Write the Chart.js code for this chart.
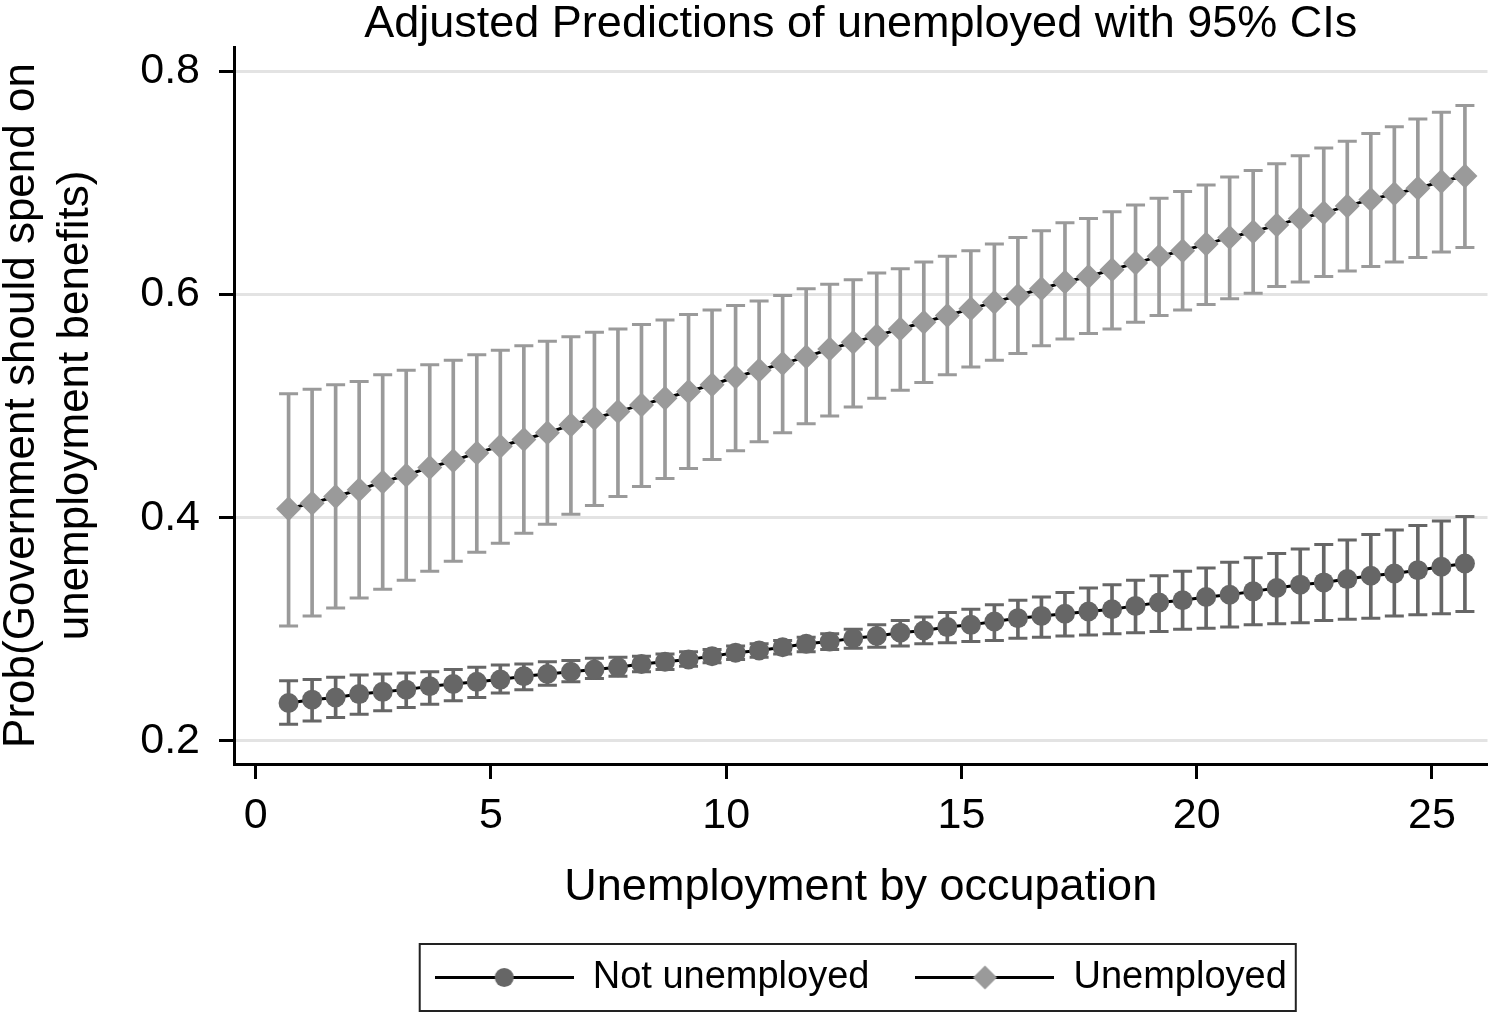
<!DOCTYPE html>
<html>
<head>
<meta charset="utf-8">
<script src="https://cdn.jsdelivr.net/npm/chart.js@4.4.1/dist/chart.umd.min.js"></script>
<style>
html,body{margin:0;padding:0;background:#ffffff;}
#wrap{width:1500px;height:1016px;position:relative;}
</style>
</head>
<body>
<div id="wrap"><canvas id="c" width="1500" height="1016"></canvas></div>
<script>
// ---------- data ----------
const xValues = [0.7,1.2,1.7,2.2,2.7,3.2,3.7,4.2,4.7,5.2,5.7,6.2,6.7,7.2,7.7,8.2,8.7,9.2,9.7,10.2,
  10.7,11.2,11.7,12.2,12.7,13.2,13.7,14.2,14.7,15.2,15.7,16.2,16.7,17.2,17.7,18.2,18.7,19.2,19.7,20.2,
  20.7,21.2,21.7,22.2,22.7,23.2,23.7,24.2,24.7,25.2,25.7];

const notMean = [0.234,0.237,0.239,0.242,0.244,0.246,0.249,0.251,0.253,0.255,
  0.258,0.260,0.262,0.264,0.266,0.269,0.271,0.273,0.276,0.279,
  0.281,0.284,0.287,0.289,0.292,0.294,0.297,0.299,0.302,0.304,
  0.307,0.310,0.312,0.314,0.316,0.318,0.321,0.324,0.326,0.329,
  0.331,0.334,0.337,0.340,0.342,0.345,0.348,0.350,0.353,0.356,
  0.359];
const notLo = [0.215,0.218,0.221,0.224,0.227,0.230,0.233,0.236,0.239,0.243,
  0.246,0.250,0.253,0.256,0.258,0.262,0.264,0.267,0.270,0.273,
  0.275,0.278,0.280,0.282,0.283,0.284,0.285,0.287,0.288,0.289,
  0.290,0.292,0.293,0.294,0.295,0.296,0.297,0.298,0.300,0.301,
  0.302,0.304,0.305,0.306,0.308,0.309,0.310,0.312,0.313,0.314,
  0.316];
const notHi = [0.254,0.255,0.257,0.259,0.260,0.261,0.262,0.264,0.266,0.268,
  0.269,0.271,0.272,0.274,0.275,0.276,0.278,0.280,0.282,0.285,
  0.287,0.290,0.293,0.296,0.300,0.304,0.308,0.311,0.315,0.318,
  0.322,0.326,0.329,0.333,0.337,0.340,0.344,0.348,0.352,0.355,
  0.360,0.364,0.368,0.372,0.376,0.380,0.385,0.389,0.393,0.397,
  0.401];

const unMean = [0.408,0.413,0.419,0.425,0.432,0.438,0.445,0.451,0.458,0.464,
  0.470,0.476,0.483,0.489,0.495,0.501,0.507,0.513,0.519,0.526,
  0.532,0.538,0.544,0.551,0.557,0.563,0.569,0.575,0.581,0.587,
  0.593,0.599,0.605,0.611,0.616,0.622,0.628,0.634,0.639,0.645,
  0.651,0.656,0.662,0.668,0.673,0.679,0.685,0.690,0.695,0.701,
  0.706];
const unLo = [0.303,0.312,0.319,0.328,0.336,0.344,0.352,0.361,0.369,0.377,
  0.386,0.394,0.403,0.411,0.419,0.428,0.435,0.444,0.452,0.460,
  0.468,0.476,0.484,0.491,0.499,0.507,0.514,0.521,0.528,0.535,
  0.541,0.547,0.554,0.560,0.565,0.569,0.575,0.581,0.586,0.591,
  0.596,0.601,0.607,0.611,0.616,0.621,0.625,0.629,0.633,0.638,
  0.642];
const unHi = [0.511,0.515,0.519,0.522,0.528,0.532,0.537,0.541,0.546,0.550,
  0.554,0.558,0.562,0.566,0.569,0.573,0.577,0.582,0.586,0.590,
  0.594,0.599,0.605,0.609,0.613,0.619,0.623,0.629,0.634,0.639,
  0.645,0.651,0.657,0.664,0.668,0.674,0.680,0.686,0.692,0.698,
  0.705,0.711,0.717,0.724,0.731,0.737,0.744,0.750,0.757,0.763,
  0.769];

const seriesNames = ['Not unemployed', 'Unemployed'];
const xTickValues = [0, 5, 10, 15, 20, 25];
const xTickLabels = ['0', '5', '10', '15', '20', '25'];
const yTickValues = [0.2, 0.4, 0.6, 0.8];
const yTickLabels = ['0.2', '0.4', '0.6', '0.8'];
const chartTitle = 'Adjusted Predictions of unemployed with 95% CIs';
const xTitle = 'Unemployment by occupation';
const yTitle = ['Prob(Government should spend on', 'unemployment benefits)'];

// ---------- styling ----------
const FONT = "'Liberation Sans', Arial, Helvetica, sans-serif";
const NOT_COLOR = '#666666';
const UN_COLOR = '#9a9a9a';
Chart.defaults.font.family = FONT;
Chart.defaults.color = '#000';

const pts = (ys) => xValues.map((x, i) => ({x: x, y: ys[i]}));
const bars = (lo, hi) => xValues.map((x, i) => ({x: x, y: [lo[i], hi[i]]}));
const caps = (lo, hi) => pts(lo).concat(pts(hi));

function makeSymbol(kind, color) {
  const cv = document.createElement('canvas');
  cv.width = 139; cv.height = 28;
  const g = cv.getContext('2d');
  g.strokeStyle = '#000'; g.lineWidth = 3;
  g.beginPath(); g.moveTo(0, 13.5); g.lineTo(139, 13.5); g.stroke();
  g.fillStyle = color;
  g.beginPath();
  if (kind === 'circle') {
    g.arc(69.5, 13.5, 9.5, 0, Math.PI * 2);
  } else {
    g.moveTo(69.5 - 12, 13.5); g.lineTo(69.5, 1.5); g.lineTo(69.5 + 12, 13.5); g.lineTo(69.5, 25.5); g.closePath();
  }
  g.fill();
  return cv;
}
const symNot = makeSymbol('circle', NOT_COLOR);
const symUn = makeSymbol('diamond', UN_COLOR);

const legendBorder = {
  id: 'legendBorder',
  afterDraw(chart) {
    const lg = chart.legend;
    if (!lg || !lg.legendHitBoxes || !lg.legendHitBoxes.length) return;
    const hb = lg.legendHitBoxes;
    const first = hb[0], last = hb[hb.length - 1];
    const L = first.left - 15, R = last.left + last.width + 9;
    const T = first.top - 15, B = first.top + first.height + 14;
    const ctx = chart.ctx;
    ctx.save();
    ctx.strokeStyle = '#222'; ctx.lineWidth = 2;
    ctx.strokeRect(L, T, R - L, B - T);
    ctx.restore();
  }
};

new Chart(document.getElementById('c'), {
  type: 'scatter',
  data: {
    datasets: [
      {type: 'bar', label: 'notCI', data: bars(notLo, notHi), backgroundColor: NOT_COLOR,
       barThickness: 3, grouped: false, borderWidth: 0, order: 5},
      {type: 'scatter', label: 'notCaps', data: caps(notLo, notHi), pointStyle: 'line',
       pointRadius: 9.5, pointHoverRadius: 9.5, pointBorderWidth: 3, pointBorderColor: NOT_COLOR,
       borderColor: NOT_COLOR, showLine: false, order: 4},
      {type: 'bar', label: 'unCI', data: bars(unLo, unHi), backgroundColor: UN_COLOR,
       barThickness: 3, grouped: false, borderWidth: 0, order: 5},
      {type: 'scatter', label: 'unCaps', data: caps(unLo, unHi), pointStyle: 'line',
       pointRadius: 9.5, pointHoverRadius: 9.5, pointBorderWidth: 3, pointBorderColor: UN_COLOR,
       borderColor: UN_COLOR, showLine: false, order: 4},
      {type: 'scatter', label: seriesNames[0], data: pts(notMean), showLine: true,
       borderColor: '#000', borderWidth: 3, pointStyle: 'circle', pointRadius: 10, pointHoverRadius: 10,
       pointBackgroundColor: NOT_COLOR, pointBorderWidth: 0, order: 1},
      {type: 'scatter', label: seriesNames[1], data: pts(unMean), showLine: true,
       borderColor: '#000', borderWidth: 3, pointStyle: 'rectRot', pointRadius: 12.5, pointHoverRadius: 12.5,
       pointBackgroundColor: UN_COLOR, pointBorderWidth: 0, order: 0}
    ]
  },
  options: {
    responsive: false,
    animation: false,
    devicePixelRatio: 1,
    layout: {padding: {left: 0, right: 5, top: 0, bottom: 9}},
    plugins: {
      tooltip: {enabled: false},
      title: {
        display: true, text: chartTitle, fullSize: false, color: '#000',
        font: {family: FONT, size: 45, weight: 'normal', lineHeight: 1},
        padding: {top: 2, bottom: 0}
      },
      legend: {
        display: true, position: 'bottom', fullSize: false,
        labels: {
          usePointStyle: true, pointStyleWidth: 139, padding: 46, color: '#000',
          font: {family: FONT, size: 38},
          generateLabels: () => [
            {text: seriesNames[0], pointStyle: symNot, fillStyle: NOT_COLOR, strokeStyle: '#000',
             lineWidth: 0, hidden: false, datasetIndex: 4, fontColor: '#000'},
            {text: seriesNames[1], pointStyle: symUn, fillStyle: UN_COLOR, strokeStyle: '#000',
             lineWidth: 0, hidden: false, datasetIndex: 5, fontColor: '#000'}
          ]
        }
      }
    },
    scales: {
      x: {
        type: 'linear', position: 'bottom', min: -0.46, max: 26.18, offset: false,
        afterBuildTicks: (s) => { s.ticks = xTickValues.map(v => ({value: v})); },
        afterFit: (s) => { s.height = 149; },
        ticks: {
          callback: (v, i) => xTickLabels[i], color: '#000', padding: 11,
          font: {family: FONT, size: 43, lineHeight: 1.2}, maxRotation: 0, autoSkip: false
        },
        grid: {display: true, drawOnChartArea: false, drawTicks: true, tickLength: 15,
               tickColor: '#000', tickWidth: 3, offset: false},
        border: {display: true, color: '#000', width: 3},
        title: {display: true, text: xTitle, color: '#000',
                font: {family: FONT, size: 45, lineHeight: 1}, padding: {top: 0, bottom: 3}}
      },
      y: {
        type: 'linear', position: 'left', min: 0.1794, max: 0.8215, beginAtZero: false,
        afterBuildTicks: (s) => { s.ticks = yTickValues.map(v => ({value: v})); },
        afterFit: (s) => { s.width = 234; },
        ticks: {
          callback: (v, i) => yTickLabels[i], color: '#000', padding: 19,
          font: {family: FONT, size: 43, lineHeight: 1.2}, autoSkip: false
        },
        grid: {display: true, drawOnChartArea: true, drawTicks: true, tickLength: 15,
               color: '#e3e3e3', lineWidth: 3, tickColor: '#000', tickWidth: 3},
        border: {display: true, color: '#000', width: 3},
        title: {display: true, text: yTitle, color: '#000',
                font: {family: FONT, size: 44, lineHeight: 1.23}, padding: {top: -5, bottom: 0}}
      }
    }
  },
  plugins: [legendBorder]
});
</script>
</body>
</html>
